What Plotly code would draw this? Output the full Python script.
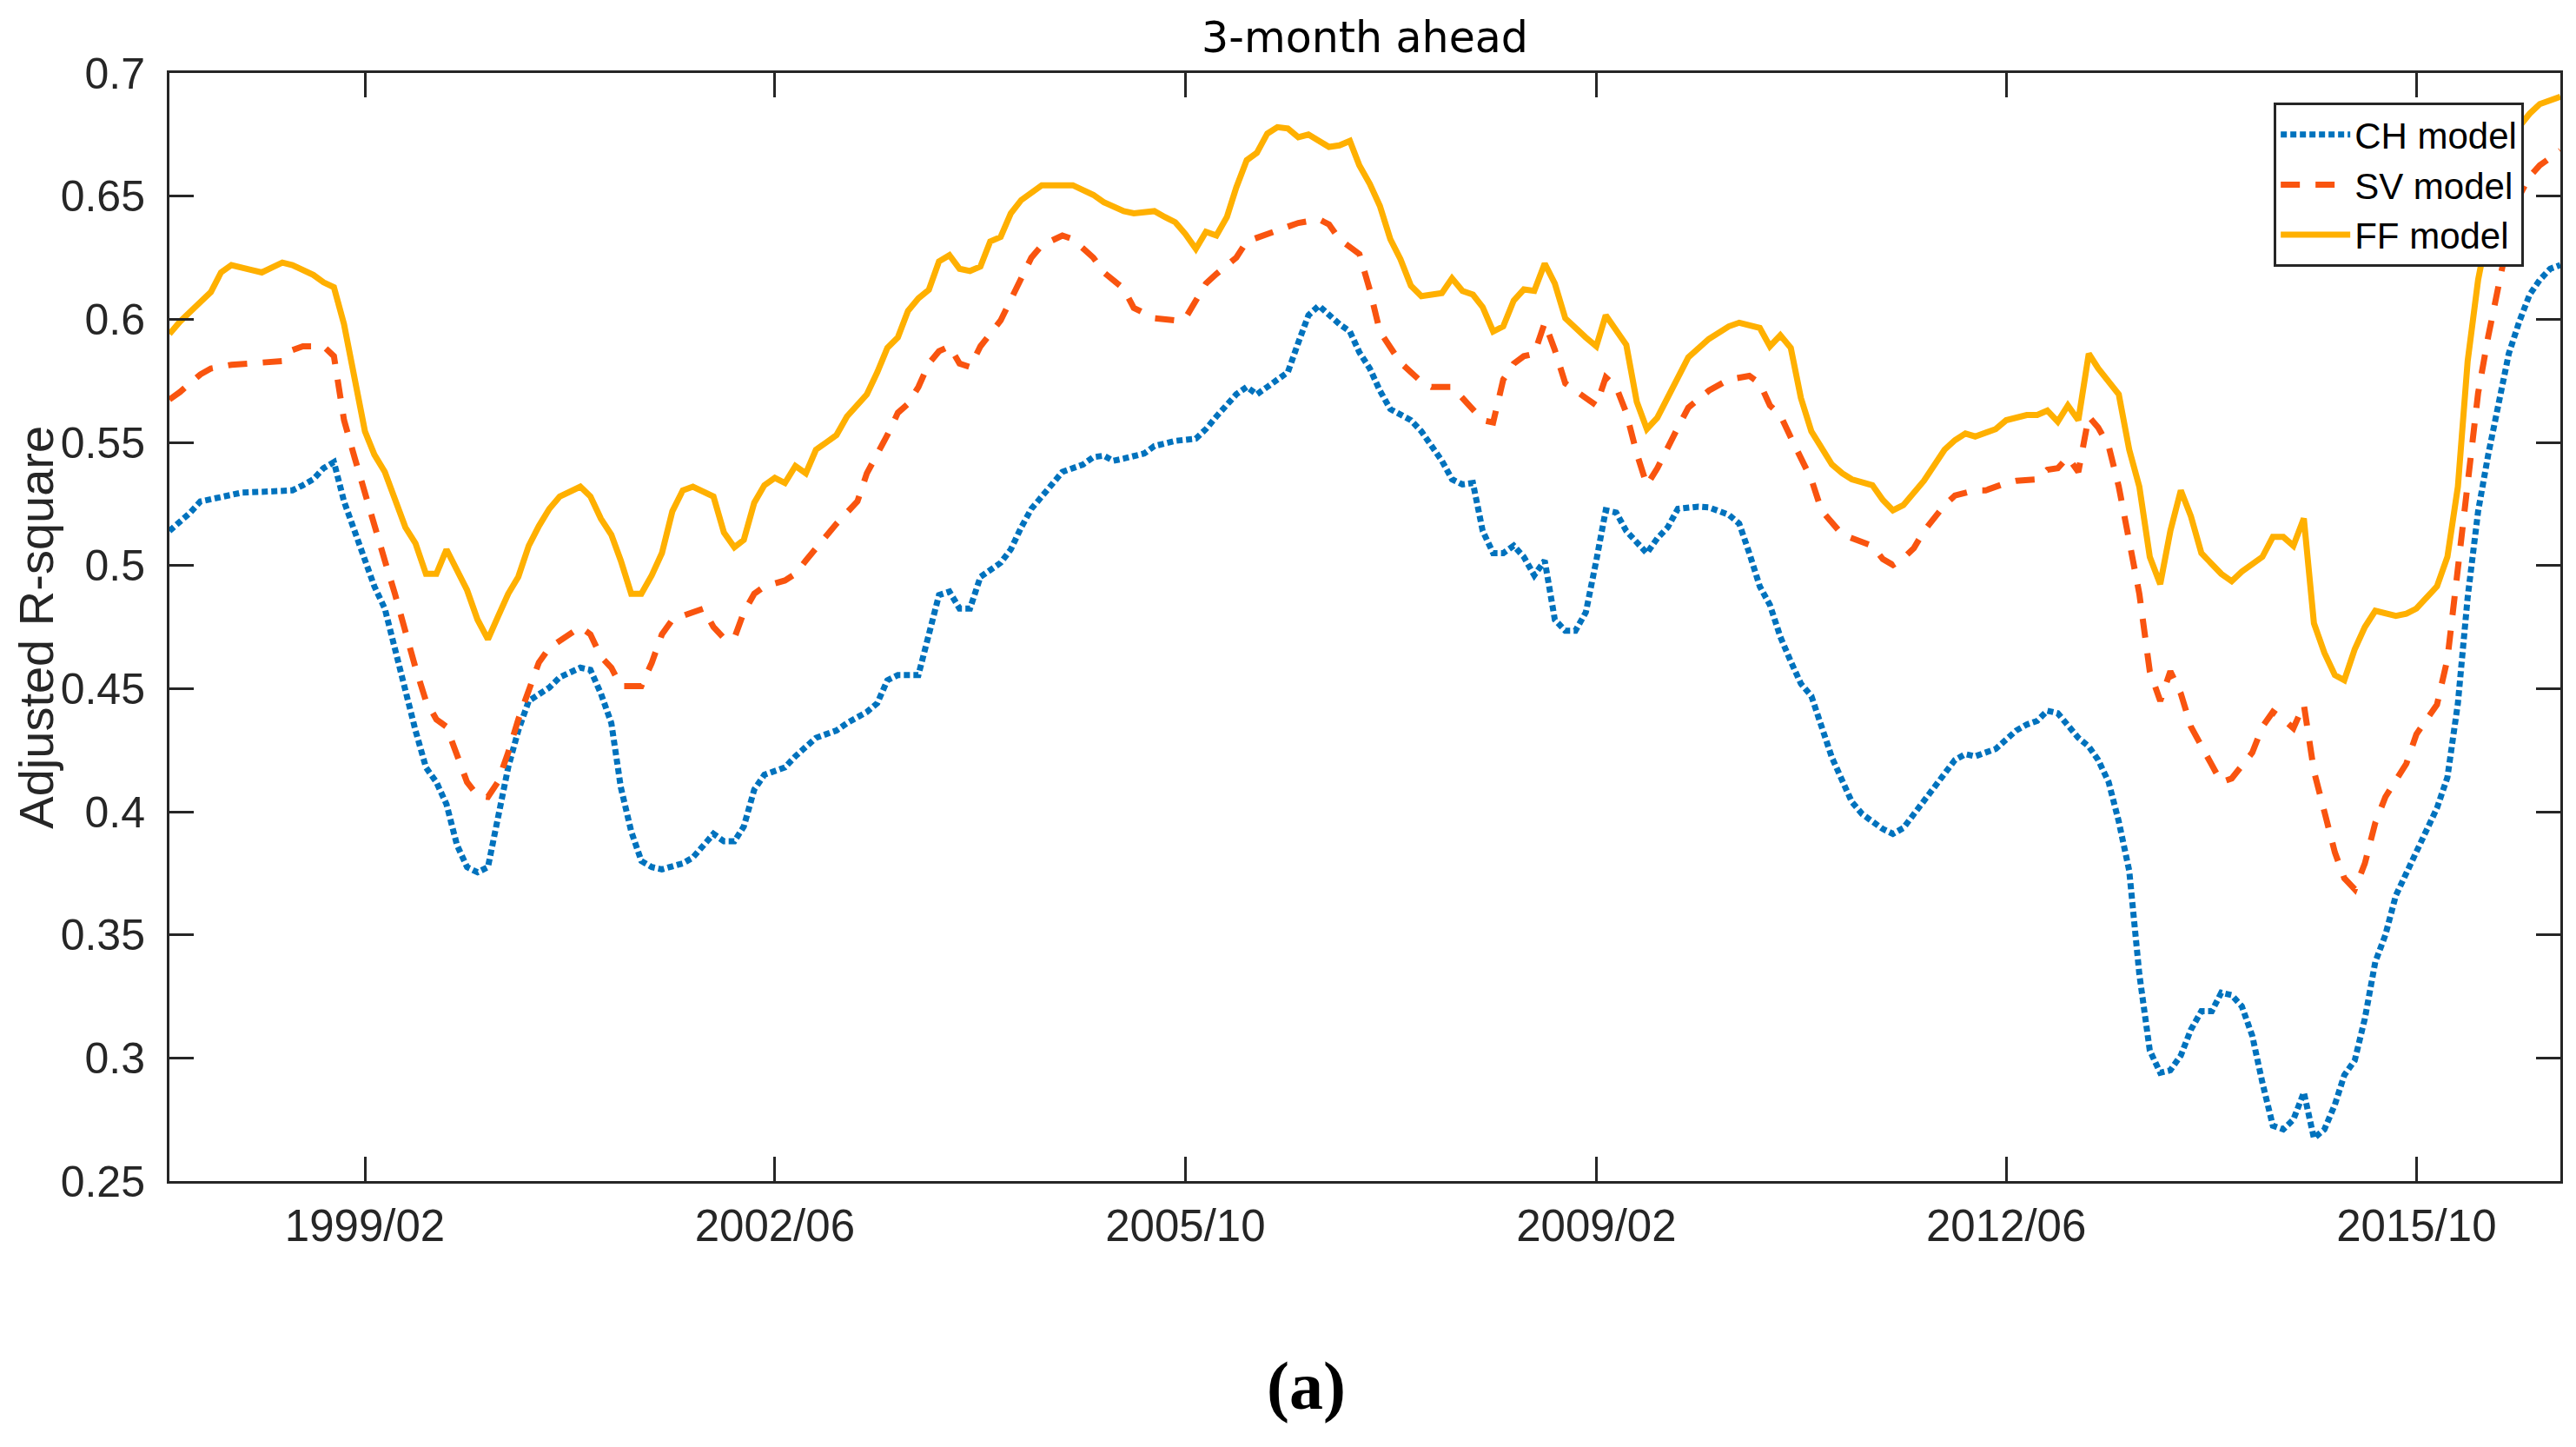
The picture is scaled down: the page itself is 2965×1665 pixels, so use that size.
import pandas as pd
import plotly.graph_objects as go

# ---- data (month index counted from 1997/07) ----
ch_month = [0, 1, 2, 3, 5, 7, 9, 11, 12, 13, 14, 15, 16, 17, 18, 19, 20, 21, 22, 23, 24, 25, 26, 27, 28, 29, 30, 31,
            32, 33, 34, 35, 37, 38, 40, 41, 42, 43, 44, 45, 46, 47, 48, 50, 51, 52, 53, 54, 55, 56, 57, 58,
            60, 61, 63, 65, 66, 68, 69, 70, 71, 73, 74, 75, 76, 77, 78, 79, 81, 82, 83, 84, 85, 87, 89, 90, 91, 92,
            93, 95, 96, 98, 100, 101, 102, 104, 105, 106, 107, 109, 110, 111, 112, 113, 114, 115, 116, 117,
            118, 119, 121, 122, 124, 125, 126, 127, 128, 129, 130, 131, 132, 133, 134, 135, 136, 137, 138, 139,
            140, 141, 142, 144, 145, 146, 147, 149, 150, 152, 153, 154, 155, 156, 157, 158, 159, 160, 161, 162,
            164, 165, 167, 168, 169, 170, 171, 172, 174, 175, 176, 178, 180, 181, 182, 183, 184, 186, 187, 188,
            189, 190, 191, 192, 193, 194, 195, 196, 197, 198, 199, 200, 201, 202, 203, 204, 205, 206, 207, 208,
            209, 210, 211, 212, 213, 214, 215, 216, 217, 218, 219, 220, 221, 222, 223, 224, 225, 226, 227, 228,
            229, 230, 231, 232, 233]
ch_value = [0.514, 0.5176, 0.5215, 0.526, 0.5275, 0.5296, 0.5299, 0.530, 0.5305, 0.5326, 0.535, 0.5395, 0.542,
            0.526, 0.514, 0.5005, 0.4915, 0.4825, 0.466, 0.448, 0.433, 0.418, 0.412, 0.403, 0.3865, 0.3775, 0.3754,
            0.3775, 0.397, 0.418, 0.433, 0.445, 0.4504, 0.4546, 0.4585, 0.4576, 0.448, 0.436, 0.410, 0.392, 0.380,
            0.3775, 0.3766, 0.379, 0.3814, 0.3865, 0.391, 0.388, 0.388, 0.394, 0.409, 0.415,
            0.418, 0.4225, 0.430, 0.433, 0.436, 0.4405, 0.4441, 0.4534, 0.4555, 0.4555, 0.472, 0.488, 0.4894,
            0.4825, 0.4825, 0.4954, 0.5011, 0.5065, 0.5155, 0.523, 0.528, 0.538, 0.541, 0.544, 0.5446, 0.5425,
            0.5434, 0.5455, 0.5485, 0.5506, 0.5515, 0.5554, 0.5605, 0.5695, 0.5725, 0.5695, 0.5725, 0.5785,
            0.5905, 0.6016, 0.6055, 0.6016, 0.598, 0.595, 0.5866, 0.580,
            0.571, 0.5635, 0.559, 0.5545, 0.5425, 0.535, 0.5329, 0.5335, 0.514, 0.505, 0.505, 0.508, 0.5035,
            0.496, 0.502, 0.478, 0.4735, 0.4735, 0.481, 0.502, 0.5224, 0.5215, 0.514, 0.505, 0.511, 0.5155,
            0.523, 0.5239, 0.5236, 0.5206, 0.517, 0.505, 0.4915, 0.484, 0.471, 0.461, 0.452, 0.447, 0.4345,
            0.422, 0.404, 0.399, 0.393, 0.391, 0.3934, 0.399, 0.405, 0.411, 0.421, 0.4234, 0.4225, 0.4255,
            0.433, 0.4354, 0.4369, 0.441, 0.440, 0.430, 0.4265, 0.421, 0.412, 0.396, 0.376, 0.334, 0.303, 0.294,
            0.295, 0.301, 0.3115, 0.319, 0.319, 0.3265, 0.3255, 0.321, 0.309, 0.290, 0.2725, 0.271, 0.275, 0.286,
            0.2674, 0.271, 0.281, 0.293, 0.299, 0.316, 0.339, 0.350, 0.366, 0.375, 0.384, 0.392, 0.4015, 0.414,
            0.444, 0.487, 0.522, 0.545, 0.565, 0.586, 0.599, 0.610, 0.616, 0.6205, 0.622]

sv_month = [0, 1, 3, 4, 6, 7, 9, 11, 12, 13, 15, 16, 17, 18, 19, 20, 21, 22, 23, 24, 25, 26, 27, 28, 29, 30, 31, 32,
            33, 34, 35, 36, 37, 39, 40, 41, 42, 43, 44, 46, 47, 48, 49, 51, 52, 53, 54, 55, 56, 57, 58,
            60, 61, 62, 64, 65, 67, 68, 70, 71, 72, 73, 74, 75, 76, 77, 78, 79, 81, 82, 83, 84, 85, 87, 88, 90, 91,
            93, 94, 96, 98, 99, 100, 101, 102, 104, 105, 107, 109, 110, 112, 113, 114, 116, 117,
            118, 120, 122, 123, 125, 126, 128, 129, 130, 131, 132, 133, 134, 135, 136, 138, 139, 140, 141, 142,
            143, 144, 145, 147, 148, 150, 152, 154, 155, 156, 157, 158, 159, 160, 161, 163, 166, 167, 168, 169,
            170, 171, 173, 174, 176, 177, 179, 180, 182, 183, 184, 185, 186, 187, 188, 189, 190, 191, 192, 193,
            194, 195, 196, 197, 198, 199, 200, 201, 203, 204, 205, 206, 207, 208, 209, 210, 211, 212, 213, 214,
            215, 216, 218, 219, 221, 222, 223, 224, 225, 226, 227, 228, 229, 230, 231, 232, 233]
sv_value = [0.5674, 0.5704, 0.5776, 0.580, 0.5815, 0.582, 0.5824, 0.583, 0.5875, 0.589, 0.589, 0.585, 0.559,
            0.544, 0.529, 0.517, 0.502, 0.4885, 0.472, 0.4585, 0.445, 0.4375, 0.4345, 0.4225, 0.412, 0.4066,
            0.406, 0.412, 0.424, 0.4375, 0.4495, 0.4606, 0.4666, 0.472, 0.475, 0.472, 0.463, 0.4585, 0.451,
            0.451, 0.4605, 0.472, 0.478, 0.481, 0.4825, 0.475, 0.4705, 0.4705, 0.481, 0.4885, 0.4915,
            0.4939, 0.4966, 0.502, 0.5125, 0.517, 0.526, 0.5374, 0.553, 0.562, 0.5656, 0.5725, 0.582, 0.587,
            0.589, 0.582, 0.5806, 0.589, 0.5995, 0.6085, 0.6166, 0.625, 0.630, 0.634, 0.6325, 0.625, 0.619,
            0.6124, 0.6046, 0.6004, 0.5995, 0.6004, 0.607, 0.6145, 0.6184, 0.625, 0.6316, 0.6346, 0.637, 0.6391,
            0.6406, 0.6385, 0.6325, 0.6265, 0.612,
            0.595, 0.5824, 0.5746, 0.5725, 0.5725, 0.568, 0.559, 0.5581, 0.5755, 0.582, 0.585, 0.586, 0.5986,
            0.5875, 0.574, 0.568, 0.565, 0.5764, 0.5725, 0.562, 0.5455, 0.5326, 0.5395, 0.556, 0.5641, 0.571,
            0.5755, 0.577, 0.574, 0.565, 0.561, 0.552, 0.543, 0.535, 0.5224, 0.5125, 0.508, 0.5026, 0.5002,
            0.503, 0.507, 0.514, 0.5245, 0.5284, 0.5305, 0.5305, 0.5335, 0.5344, 0.535, 0.5389, 0.5395, 0.544,
            0.538, 0.5605, 0.556, 0.5485, 0.532, 0.511, 0.4885, 0.457, 0.445, 0.457, 0.448, 0.4345, 0.427,
            0.419, 0.412, 0.4135, 0.424, 0.4345, 0.4405, 0.4375, 0.4339, 0.4435, 0.4165, 0.400, 0.3835, 0.373,
            0.3685, 0.379, 0.3955, 0.406, 0.4195, 0.4315, 0.4435, 0.462, 0.499, 0.538, 0.570, 0.593, 0.615,
            0.634, 0.650, 0.658, 0.6625, 0.6655, 0.6685]

ff_month = [0, 1, 3, 4, 5, 6, 8, 9, 10, 11, 12, 14, 15, 16, 17, 18, 19, 20, 21, 23, 24, 25, 26, 27, 29, 30, 31, 32,
            33, 34, 35, 36, 37, 38, 40, 41, 42, 43, 44, 45, 46, 47, 48, 49, 50, 51, 52, 53, 54, 55, 56, 57, 58,
            59, 60, 61, 62, 63, 64, 65, 66, 68, 69, 70, 71, 72, 73, 74, 75, 76, 77, 78, 79, 80, 81, 82, 83, 84, 85,
            88, 89, 90, 91, 93, 94, 96, 97, 98, 99, 100, 101, 102, 103, 104, 105, 106, 107, 108, 109, 110, 111,
            113, 114, 115, 116, 117, 118, 119, 120, 121, 122, 124, 125, 126, 127, 128, 129, 130, 131, 132, 133,
            134, 135, 136, 138, 139, 140, 142, 143, 144, 145, 147, 148, 150, 151, 152, 153, 155, 156, 157, 158,
            159, 160, 162, 163, 164, 166, 167, 168, 169, 171, 173, 174, 175, 176, 178, 179, 181, 182, 183, 184,
            185, 186, 187, 188, 190, 191, 192, 193, 194, 195, 196, 197, 198, 200, 201, 202, 204, 205, 206, 207,
            208, 209, 210, 211, 212, 213, 214, 215, 217, 218, 219, 221, 222, 223, 224, 225, 226, 227, 228, 230,
            231, 232, 233]
ff_value = [0.594, 0.599, 0.607, 0.611, 0.619, 0.622, 0.620, 0.619, 0.621, 0.623, 0.622, 0.618, 0.615, 0.613,
            0.598, 0.577, 0.5545, 0.545, 0.538, 0.5155, 0.509, 0.4966, 0.4966, 0.5065, 0.490, 0.478, 0.470,
            0.479, 0.4885, 0.4954, 0.508, 0.516, 0.523, 0.528, 0.532, 0.528, 0.519, 0.5125, 0.502, 0.4885,
            0.4885, 0.496, 0.505, 0.522, 0.5305, 0.532, 0.530, 0.528, 0.5134, 0.5074, 0.5104, 0.5255, 0.5326,
            0.5356, 0.5335, 0.5404, 0.5374, 0.547, 0.550, 0.553, 0.5605, 0.5695, 0.5785, 0.5884, 0.5926, 0.6034,
            0.6085, 0.612, 0.6235, 0.626, 0.6205, 0.6196, 0.6214, 0.6316, 0.6334, 0.643, 0.6484, 0.6514, 0.6544,
            0.6544, 0.6526, 0.6505, 0.6475, 0.6439, 0.643, 0.6439, 0.6415, 0.6394, 0.6346, 0.6286, 0.6355,
            0.634, 0.6415, 0.6535, 0.6646, 0.6676, 0.6754, 0.678, 0.6775, 0.6739, 0.675,
            0.670, 0.6706, 0.6724, 0.6625, 0.655, 0.646, 0.6325, 0.6244, 0.6136, 0.6094, 0.6106, 0.6166, 0.6115,
            0.610, 0.6049, 0.595, 0.5971, 0.6076, 0.6121, 0.6115, 0.6226, 0.6145, 0.6004, 0.5926, 0.589,
            0.6016, 0.5896, 0.5665, 0.5554, 0.560, 0.5755, 0.5845, 0.592, 0.5944, 0.5971, 0.5986, 0.5965,
            0.589, 0.5935, 0.5884, 0.568, 0.5545, 0.541, 0.5374, 0.535, 0.5326, 0.5266, 0.5224, 0.5245, 0.5344,
            0.547, 0.5509, 0.5536, 0.5524, 0.5554, 0.559, 0.5611, 0.5611, 0.5629, 0.5584, 0.565, 0.559, 0.586,
            0.580, 0.5695, 0.547, 0.532, 0.5035, 0.4924, 0.514, 0.5305, 0.520, 0.505, 0.4966, 0.4936, 0.4975,
            0.5035, 0.5116, 0.5116, 0.508, 0.5191, 0.4765, 0.4645, 0.4555, 0.4534, 0.466, 0.475, 0.4816, 0.4795,
            0.4804, 0.4825, 0.4915, 0.5035, 0.532, 0.583, 0.616, 0.6385, 0.6586, 0.673, 0.6835, 0.6874, 0.6886,
            0.6904]

start_month = "1997-07-01"
end_month = "2016-12-01"
x_tick_dates = ["1999-02-01", "2002-06-01", "2005-10-01", "2009-02-01", "2012-06-01", "2015-10-01"]
x_tick_labels = ["1999/02", "2002/06", "2005/10", "2009/02", "2012/06", "2015/10"]
y_tick_vals = [0.25, 0.3, 0.35, 0.4, 0.45, 0.5, 0.55, 0.6, 0.65, 0.7]
y_tick_labels = ["0.25", "0.3", "0.35", "0.4", "0.45", "0.5", "0.55", "0.6", "0.65", "0.7"]

base = pd.Timestamp(start_month)


def to_dates(months):
    return [base + pd.DateOffset(months=int(m)) for m in months]


AX = "#262626"
W, H = 2949, 1649  # page body has an 8px margin
fig = go.Figure()
fig.add_trace(go.Scatter(x=to_dates(ch_month), y=ch_value, mode="lines", name="CH model",
                         line=dict(color="#0072BD", width=7, dash="7px,4px")))
fig.add_trace(go.Scatter(x=to_dates(sv_month), y=sv_value, mode="lines", name="SV model",
                         line=dict(color="#F9540F", width=7, dash="22px,18px")))
fig.add_trace(go.Scatter(x=to_dates(ff_month), y=ff_value, mode="lines", name="FF model",
                         line=dict(color="#FFB000", width=7)))

fig.update_layout(
    width=W, height=H,
    margin=dict(l=187, r=7, t=76, b=298),
    paper_bgcolor="white", plot_bgcolor="white",
    font=dict(family="Liberation Sans, Arial, sans-serif", color=AX),
    title=dict(text="3-month ahead", x=0.5, xref="paper", xanchor="center",
               y=1 - 35 / H, yref="container", yanchor="middle",
               font=dict(family="DejaVu Sans", size=49, color="black")),
    showlegend=True,
    legend=dict(x=0.9848, xanchor="right", y=0.9733, yanchor="top",
                bgcolor="white", bordercolor=AX, borderwidth=3,
                font=dict(family="Liberation Sans, Arial, sans-serif", size=42, color="black"),
                itemwidth=80, tracegroupgap=0),
)
fig.update_xaxes(
    type="date", range=[start_month, end_month],
    tickvals=x_tick_dates, ticktext=x_tick_labels,
    showline=True, linewidth=3, linecolor=AX, mirror="ticks",
    ticks="inside", ticklen=28, tickwidth=2.5, tickcolor=AX,
    tickfont=dict(size=51, color=AX), ticklabelstandoff=5,
    showgrid=False, zeroline=False,
)
fig.update_yaxes(
    range=[0.25, 0.7], tickvals=y_tick_vals, ticktext=y_tick_labels,
    showline=True, linewidth=3, linecolor=AX, mirror="ticks",
    ticks="inside", ticklen=28, tickwidth=2.5, tickcolor=AX,
    tickfont=dict(size=50, color=AX), ticklabelstandoff=15,
    showgrid=False, zeroline=False,
)
fig.add_annotation(text="Adjusted R-square", xref="paper", yref="paper",
                   x=(41 - 195) / 2755, y=0.5, xanchor="center", yanchor="middle",
                   textangle=-90, showarrow=False,
                   font=dict(family="Liberation Sans, Arial, sans-serif", size=56, color=AX))
fig.add_annotation(text="<b>(a)</b>", xref="paper", yref="paper",
                   x=(1505 - 195) / 2755, y=(1359 - 1594) / 1275,
                   xanchor="center", yanchor="middle", showarrow=False,
                   font=dict(family="Liberation Serif, serif", size=78, color="black"))

fig.write_html("out.html")
